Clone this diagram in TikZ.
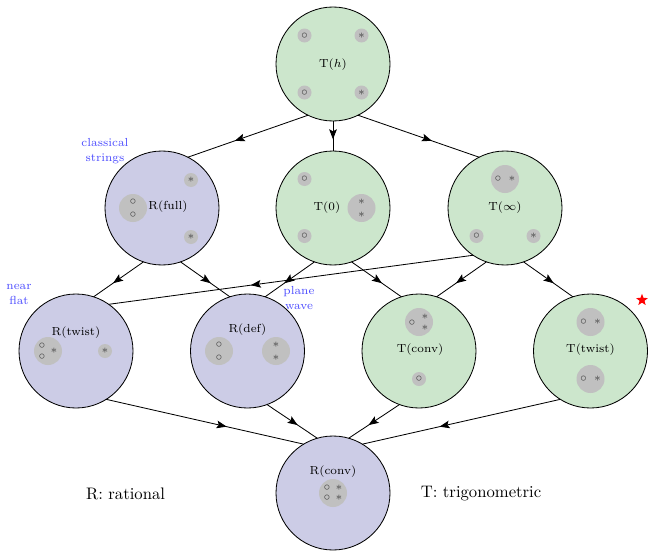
\documentclass[tikz,border=0pt]{standalone}
\usetikzlibrary{arrows.meta,decorations.markings,shapes.geometric}
\definecolor{tgreen}{RGB}{204,230,204}
\definecolor{rblue}{RGB}{204,204,230}
\definecolor{blobgray}{RGB}{192,192,192}
\definecolor{symgray}{RGB}{70,70,70}
\definecolor{notecol}{RGB}{77,77,255}
\tikzset{
  bigcirc/.style={circle,draw=black,line width=0.5pt,minimum size=68.4pt,inner sep=0pt,outer sep=0pt},
  tnode/.style={bigcirc,fill=tgreen},
  rnode/.style={bigcirc,fill=rblue},
  bigblob/.style={circle,fill=blobgray,minimum size=16.8pt,inner sep=0pt},
  smallblob/.style={circle,fill=blobgray,minimum size=8.4pt,inner sep=0pt},
  sym/.style={inner sep=0pt,text=symgray,font=\scriptsize},
  lbl/.style={inner sep=0pt,font=\scriptsize},
  note/.style={inner sep=0pt,font=\scriptsize,text=notecol,align=center},
  midarrow/.style={line width=0.5pt,postaction={decorate},decoration={markings,
    mark=at position #1 with {\arrow{Stealth[length=6pt,width=4.6pt,inset=1.2pt]}}}},
  midarrow/.default=0.61
}
\begin{document}
\begin{tikzpicture}[x=0.6pt,y=-0.6pt]
\useasboundingbox (0,0) rectangle (648,550);

% main circles
\node[tnode] (Th) at (333,64) {};
\node[rnode] (Rfull) at (162,208) {};
\node[tnode] (T0) at (333,208) {};
\node[tnode] (Tinf) at (505,208) {};
\node[rnode] (Rtwist) at (76,351) {};
\node[rnode] (Rdef) at (247.5,351) {};
\node[tnode] (Tconv) at (419,351) {};
\node[tnode] (Ttwist) at (590.5,351) {};
\node[rnode] (Rconv) at (333,493) {};

% T(h)
\begin{scope}[shift={(333,64)}]
  \node[lbl] (lTh) at (0,1) {T($h$)};
  \node[smallblob] (Th1) at (-28.5,-28.5) {};
  \node[smallblob] (Th2) at (28.5,-28.5) {};
  \node[smallblob] (Th3) at (-28.5,28.5) {};
  \node[smallblob] (Th4) at (28.5,28.5) {};
  \node[sym] at (Th1) {$\circ$};
  \node[sym] at (Th2) {$\ast$};
  \node[sym] at (Th3) {$\circ$};
  \node[sym] at (Th4) {$\ast$};
\end{scope}

% R(full)
\begin{scope}[shift={(162,208)}]
  \node[lbl] (lRfull) at (6,-1) {R(full)};
  \node[bigblob] (Rf1) at (-29,0) {};
  \node[sym] at (-29,-6.5) {$\circ$};
  \node[sym] at (-29,6.5) {$\circ$};
  \node[smallblob] (Rf2) at (29,-28) {};
  \node[smallblob] (Rf3) at (29,29) {};
  \node[sym] at (Rf2) {$\ast$};
  \node[sym] at (Rf3) {$\ast$};
\end{scope}

% T(0)
\begin{scope}[shift={(333,208)}]
  \node[lbl] (lT0) at (-6,0) {T(0)};
  \node[smallblob] (T01) at (-28.5,-29) {};
  \node[smallblob] (T02) at (-28.5,28) {};
  \node[sym] at (T01) {$\circ$};
  \node[sym] at (T02) {$\circ$};
  \node[bigblob] (T03) at (28.5,0) {};
  \node[sym] at (28.5,-6.5) {$\ast$};
  \node[sym] at (28.5,6.5) {$\ast$};
\end{scope}

% T(inf)
\begin{scope}[shift={(505,208)}]
  \node[lbl] (lTinf) at (0,0) {T($\infty$)};
  \node[bigblob] (Ti1) at (0,-29) {};
  \node[sym] at (-7,-29) {$\circ$};
  \node[sym] at (7,-29) {$\ast$};
  \node[smallblob] (Ti2) at (-28.5,28) {};
  \node[smallblob] (Ti3) at (28.5,28) {};
  \node[sym] at (Ti2) {$\circ$};
  \node[sym] at (Ti3) {$\ast$};
\end{scope}

% R(twist)
\begin{scope}[shift={(76,351)}]
  \node[lbl] (lRtwist) at (0,-18) {R(twist)};
  \node[bigblob] (Rt1) at (-28,0) {};
  \node[sym] at (-34,-5.5) {$\circ$};
  \node[sym] at (-34,6) {$\circ$};
  \node[sym] at (-22,0) {$\ast$};
  \node[smallblob] (Rt2) at (29,0) {};
  \node[sym] at (Rt2) {$\ast$};
\end{scope}

% R(def)
\begin{scope}[shift={(247.5,351)}]
  \node[lbl] (lRdef) at (0,-21) {R(def)};
  \node[bigblob] (Rd1) at (-28.5,0) {};
  \node[sym] at (-28.5,-6.5) {$\circ$};
  \node[sym] at (-28.5,6.5) {$\circ$};
  \node[bigblob] (Rd2) at (28.5,0) {};
  \node[sym] at (28.5,-6.5) {$\ast$};
  \node[sym] at (28.5,6.5) {$\ast$};
\end{scope}

% T(conv)
\begin{scope}[shift={(419,351)}]
  \node[lbl] (lTconv) at (1,-1) {T(conv)};
  \node[bigblob] (Tc1) at (0,-29) {};
  \node[sym] at (-7,-28) {$\circ$};
  \node[sym] at (6,-34) {$\ast$};
  \node[sym] at (6,-23) {$\ast$};
  \node[smallblob] (Tc2) at (0,28) {};
  \node[sym] at (Tc2) {$\circ$};
\end{scope}

% T(twist)
\begin{scope}[shift={(590.5,351)}]
  \node[lbl] (lTtwist) at (0,-1) {T(twist)};
  \node[bigblob] (Tt1) at (0,-29) {};
  \node[sym] at (-7,-29) {$\circ$};
  \node[sym] at (7,-29) {$\ast$};
  \node[bigblob] (Tt2) at (0,28) {};
  \node[sym] at (-7,28) {$\circ$};
  \node[sym] at (7,28) {$\ast$};
\end{scope}

% R(conv)
\begin{scope}[shift={(333,493)}]
  \node[lbl] (lRconv) at (0,-21) {R(conv)};
  \node[bigblob] (Rc1) at (0,0) {};
  \node[sym] at (-6,-5) {$\circ$};
  \node[sym] at (-6,5) {$\circ$};
  \node[sym] at (6,-5) {$\ast$};
  \node[sym] at (6,5) {$\ast$};
\end{scope}

% edges
\draw[midarrow] (Th.244) -- (Rfull.63);
\draw[midarrow] (Th.south) -- (T0.north);
\draw[midarrow] (Th.296) -- (Tinf.117);
\draw[midarrow] (Rfull.251) -- (Rtwist.72);
\draw[midarrow] (Rfull.289) -- (Rdef.108);
\draw[midarrow] (T0.251) -- (Rdef.72);
\draw[midarrow] (T0.289) -- (Tconv.108);
\draw[midarrow] (Tinf.251) -- (Tconv.72);
\draw[midarrow] (Tinf.289) -- (Ttwist.108);
\draw[midarrow] (Tinf.236) -- (Rtwist.55);
\draw[midarrow] (Rtwist.302) -- (Rconv.121);
\draw[midarrow] (Rdef.290) -- (Rconv.106);
\draw[midarrow] (Tconv.250) -- (Rconv.74);
\draw[midarrow] (Ttwist.238) -- (Rconv.59);

% notes
\node[note] (nclass) at (105,151) {classical\\[1pt]strings};
\node[note] (nnear) at (19,294) {near\\[1pt]flat};
\node[note] (nplane) at (299,298) {plane\\[1pt]wave};
\node[star,star points=5,star point ratio=2.4,fill=red,inner sep=0pt,minimum size=7.5pt] (rstar) at (642,300) {};
\node[inner sep=0pt] (legR) at (125.5,494) {R: rational};
\node[inner sep=0pt] (legT) at (481,494) {T: trigonometric};
\end{tikzpicture}
\end{document}
